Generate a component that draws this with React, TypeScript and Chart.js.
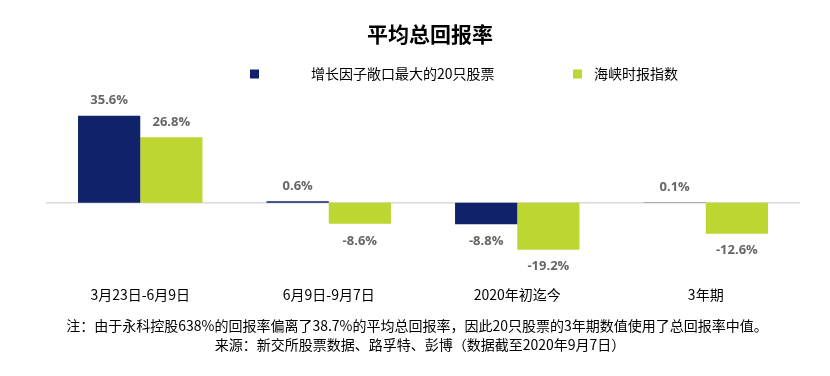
import React, { useEffect, useRef } from "react";
import { Chart, registerables } from "chart.js";

Chart.register(...registerables);

const chartTitle = "平均总回报率";
const categories = ["3月23日-6月9日", "6月9日-9月7日", "2020年初迄今", "3年期"];
const seriesNames = ["增长因子敞口最大的20只股票", "海峡时报指数"];
const growthReturns = [35.6, 0.6, -8.8, 0.1];
const stiReturns = [26.8, -8.6, -19.2, -12.6];
const seriesColors = ["#0f226a", "#bdd631"];
const footnotes = [
  "注：由于永科控股638%的回报率偏离了38.7%的平均总回报率，因此20只股票的3年期数值使用了总回报率中值。",
  "来源：新交所股票数据、路孚特、彭博（数据截至2020年9月7日）",
];

const CJK = '"Noto Sans CJK SC", "Noto Sans", sans-serif';

const decorPlugin = {
  id: "decor",
  beforeDatasetsDraw(chart: any) {
    const { ctx, chartArea, scales } = chart;
    const y0 = scales.y.getPixelForValue(0);
    ctx.save();
    ctx.strokeStyle = "#d9d9d9";
    ctx.lineWidth = 1.5;
    ctx.beginPath();
    ctx.moveTo(chartArea.left, y0);
    ctx.lineTo(chartArea.right, y0);
    ctx.stroke();
    ctx.restore();
  },
  afterDatasetsDraw(chart: any) {
    const { ctx } = chart;
    ctx.save();
    ctx.font = 'bold 13px "Open Sans", sans-serif';
    ctx.fillStyle = "#666666";
    ctx.textAlign = "center";
    ctx.textBaseline = "middle";
    chart.data.datasets.forEach((ds: any, di: number) => {
      const meta = chart.getDatasetMeta(di);
      meta.data.forEach((el: any, i: number) => {
        const v = ds.data[i];
        const y = v >= 0 ? el.y - 15 : el.y + 17;
        ctx.fillText(v.toFixed(1) + "%", el.x, y);
      });
    });
    ctx.restore();
  },
  afterDraw(chart: any) {
    const { ctx } = chart;
    ctx.save();
    ctx.fillStyle = "#000";
    ctx.textBaseline = "middle";
    ctx.textAlign = "center";
    ctx.font = "bold 21px " + CJK;
    ctx.fillText(chartTitle, 430, 34);

    // legend
    const legendPos = [
      { box: 250, text: 311 },
      { box: 573, text: 594 },
    ];
    ctx.font = "14px " + CJK;
    ctx.textAlign = "left";
    chart.data.datasets.forEach((ds: any, i: number) => {
      const p = legendPos[i];
      ctx.fillStyle = ds.backgroundColor;
      ctx.fillRect(p.box, 69.5, 9, 9);
      ctx.fillStyle = "#000";
      ctx.fillText(ds.label, p.text, 74);
    });

    // footnotes
    ctx.textAlign = "center";
    ctx.font = "14px " + CJK;
    ctx.fillText(footnotes[0], 417, 326);
    ctx.fillText(footnotes[1], 420, 345);
    ctx.restore();
  },
};

export default function App() {
  const ref = useRef<HTMLCanvasElement | null>(null);
  useEffect(() => {
    if (!ref.current) return;
    const chart = new Chart(ref.current, {
      type: "bar",
      data: {
        labels: categories,
        datasets: [
          {
            label: seriesNames[0],
            data: growthReturns,
            backgroundColor: seriesColors[0],
            categoryPercentage: 0.66,
            barPercentage: 1,
          },
          {
            label: seriesNames[1],
            data: stiReturns,
            backgroundColor: seriesColors[1],
            categoryPercentage: 0.66,
            barPercentage: 1,
          },
        ],
      },
      options: {
        responsive: false,
        animation: false,
        layout: { padding: { left: 46, right: 30, top: 105, bottom: 63 } },
        plugins: {
          legend: { display: false },
          title: { display: false },
          tooltip: { enabled: false },
        },
        scales: {
          x: {
            grid: { display: false, drawTicks: false },
            border: { display: false },
            ticks: {
              color: "#000",
              font: { family: CJK, size: 14 },
              padding: 10,
              maxRotation: 0,
              autoSkip: false,
            },
          },
          y: {
            display: false,
            min: -30,
            max: 40,
          },
        },
      },
      plugins: [decorPlugin],
    });
    return () => chart.destroy();
  }, []);
  return (
    <div style={{ position: "absolute", left: 0, top: 0, width: 830, height: 376, background: "#fff" }}>
      <canvas ref={ref} width={830} height={376} />
    </div>
  );
}
